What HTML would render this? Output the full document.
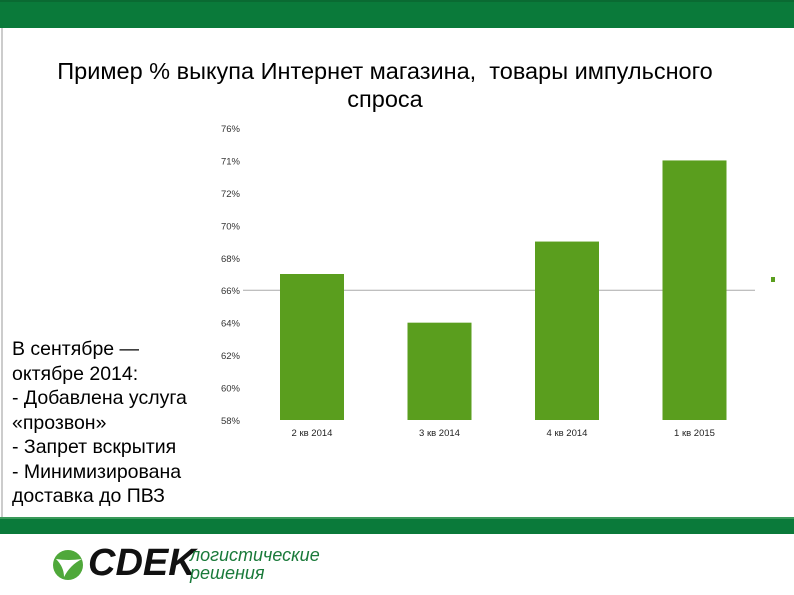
<!DOCTYPE html>
<html><head><meta charset="utf-8"><style>
body{margin:0;width:794px;height:595px;background:#fff;position:relative;overflow:hidden;font-family:"Liberation Sans",sans-serif}
.abs{position:absolute}
.lt{font-size:19.5px;line-height:24.5px;color:#000;white-space:nowrap}
</style></head><body>
<div class="abs" style="left:0;top:0;width:794px;height:28px;background:#0a7a3a;border-top:2px solid #0a6a32;box-sizing:border-box"></div>
<div class="abs" style="left:1px;top:28px;width:2px;height:490px;background:#ccc"></div>
<div class="abs" style="left:0;top:517px;width:794px;height:17px;background:#0a7a3a;border-top:2px solid #3a9a5a;box-sizing:border-box"></div>
<div class="abs" style="left:40px;top:57px;width:690px;text-align:center;font-size:23.5px;line-height:28px;white-space:nowrap">Пример % выкупа Интернет магазина,&nbsp; товары импульсного<br>спроса</div>
<div class="abs lt" style="left:12px;top:337px;width:190px">В сентябре —<br>октябре 2014:<br>- Добавлена услуга<br>«прозвон»<br>- Запрет вскрытия<br>- Минимизирована<br>доставка до ПВЗ</div>
<svg class="abs" style="left:0;top:0" width="794" height="595">
<g id="g"></g>
</svg>
<div class="abs" style="left:52px;top:546px;width:300px;height:36px">
<svg width="40" height="36"><circle cx="16" cy="19" r="15" fill="#4fa83a"/><path d="M4 13 Q16 15 30 13 Q18 19 12 31 Q12 21 4 13Z" fill="#fff"/></svg>
<span class="abs" style="left:36px;top:-4px;font-size:38px;font-weight:bold;font-style:italic;color:#111;letter-spacing:0px">CDEK</span>
<span class="abs" style="left:138px;top:0;font-size:18px;line-height:18px;font-style:italic;color:#1a7a3a">логистические<br>решения</span>
</div>
<script>
const categories=["2 кв 2014","3 кв 2014","4 кв 2014","1 кв 2015"];
const values=[67,64,69,74];
const tickValues=[58,60,62,64,66,68,70,72,74,76];
const tickLabels=["58%","60%","62%","64%","66%","68%","70%","72%","71%","76%"];
const g=document.getElementById('g');const NS='http://www.w3.org/2000/svg';
const y=v=>420-(v-58)*(292/18);
const x=i=>312+i*127.5;
function mk(t,a){const e=document.createElementNS(NS,t);for(const k in a)e.setAttribute(k,a[k]);g.appendChild(e);return e;}
tickValues.forEach((v,i)=>{const t=mk('text',{x:240,y:y(v)+4,'text-anchor':'end','font-size':9.5,fill:'#333','font-family':'Liberation Sans'});t.textContent=tickLabels[i];

});
const gl=mk('line',{x1:243,x2:755,y1:y(66),y2:y(66),stroke:'#aaa','stroke-width':1});


values.forEach((v,i)=>{const r=mk('rect',{x:x(i)-32,y:y(v),width:64,height:420-y(v),fill:'#5a9e1e'});


const t=mk('text',{x:x(i),y:436,'text-anchor':'middle','font-size':9.5,fill:'#222','font-family':'Liberation Sans'});t.textContent=categories[i];

});
const lg=mk('rect',{x:771,y:277,width:4,height:5,fill:'#5a9e1e'});


</script>
</body></html>
